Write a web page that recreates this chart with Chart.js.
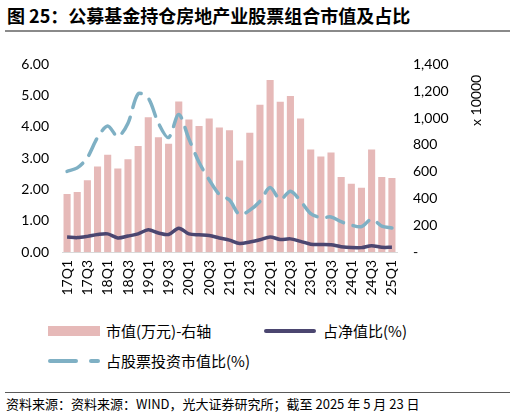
<!DOCTYPE html>
<html>
<head>
<meta charset="utf-8">
<script src="https://cdn.jsdelivr.net/npm/chart.js@4.4.1/dist/chart.umd.min.js"></script>
<style>
  body { margin: 0; width: 516px; height: 414px; position: relative; overflow: hidden; background: #fff;
         font-family: "Noto Sans CJK SC", sans-serif; color: #000; }
  #title { position: absolute; left: 7px; top: 5px; font-size: 18px; line-height: 20px; font-weight: bold; white-space: nowrap; }
  #rule1 { position: absolute; left: 5px; top: 30px; width: 505px; height: 2px; background: #8a8a8a; }
  #wrap { position: absolute; left: 0; top: 40px; width: 516px; height: 270px; }
  .leg { position: absolute; font-size: 15px; line-height: 18px; white-space: nowrap; }
  .sw { position: absolute; }
  #rule2 { position: absolute; left: 5px; top: 392px; width: 505px; height: 1px; background: #5a5a5a; }
  #src { position: absolute; left: 6px; top: 396px; font-size: 13px; line-height: 16px; white-space: nowrap; }
</style>
</head>
<body>
<div id="title">图 25：公募基金持仓房地产业股票组合市值及占比</div>
<div id="rule1"></div>
<div id="wrap"><canvas id="chart"></canvas></div>

<div class="sw" style="left:48px;top:326px;width:52px;height:10px;background:#e6b9b8"></div>
<div class="leg" style="left:106px;top:322px">市值(万元)-右轴</div>
<div class="sw" style="left:264px;top:329px;width:52px;height:4px;border-radius:2px;background:#4b4670"></div>
<div class="leg" style="left:323px;top:322px">占净值比(%)</div>
<div class="sw" style="left:48px;top:359px;width:30px;height:4px;border-radius:2px;background:#7fb0c4"></div>
<div class="sw" style="left:89px;top:359px;width:11px;height:4px;border-radius:2px;background:#7fb0c4"></div>
<div class="leg" style="left:106px;top:352px">占股票投资市值比(%)</div>

<div id="rule2"></div>
<div id="src">资料来源：资料来源：WIND，光大证券研究所；截至 2025 年 5 月 23 日</div>

<script>
const quarters = ['17Q1','17Q2','17Q3','17Q4','18Q1','18Q2','18Q3','18Q4',
  '19Q1','19Q2','19Q3','19Q4','20Q1','20Q2','20Q3','20Q4',
  '21Q1','21Q2','21Q3','21Q4','22Q1','22Q2','22Q3','22Q4',
  '23Q1','23Q2','23Q3','23Q4','24Q1','24Q2','24Q3','24Q4','25Q1'];

// 市值（万元，右轴，x 10000）
const marketValue = [433, 448, 536, 638, 726, 623, 692, 791,
  1006, 857, 808, 1123, 989, 940, 996, 930,
  908, 682, 890, 1099, 1283, 1121, 1164, 997,
  764, 713, 742, 560, 509, 480, 764, 560, 553];

// 占净值比（%）
const navRatio = [0.48, 0.46, 0.50, 0.56, 0.58, 0.45, 0.51, 0.58,
  0.71, 0.61, 0.56, 0.76, 0.58, 0.55, 0.53, 0.45,
  0.38, 0.27, 0.32, 0.39, 0.48, 0.40, 0.42, 0.34,
  0.25, 0.24, 0.23, 0.17, 0.14, 0.14, 0.20, 0.15, 0.15];

// 占股票投资市值比（%）
const stockRatio = [2.58, 2.69, 3.02, 3.66, 4.03, 3.69, 4.12, 5.06,
  4.92, 4.12, 3.66, 4.40, 3.62, 2.87, 2.31, 1.84,
  1.66, 1.19, 1.34, 1.62, 2.06, 1.68, 1.94, 1.63,
  1.23, 1.10, 1.12, 0.97, 0.86, 0.81, 1.05, 0.83, 0.77];

const leftTicks = [0, 1, 2, 3, 4, 5, 6];
const rightTicks = [0, 200, 400, 600, 800, 1000, 1200, 1400];

const tickFont = { family: 'Lato', size: 14 };

// rotated unit label next to the right axis
const unitLabel = {
  id: 'unitLabel',
  afterDraw(chart) {
    const { ctx, chartArea } = chart;
    ctx.save();
    ctx.translate(chartArea.right + 79, chartArea.top + 36);
    ctx.rotate(-Math.PI / 2);
    ctx.font = '14px Lato';
    ctx.fillStyle = '#000';
    ctx.textAlign = 'center';
    ctx.textBaseline = 'middle';
    ctx.fillText('x 10000', 0, 0);
    ctx.restore();
  }
};

new Chart(document.getElementById('chart'), {
  type: 'bar',
  data: {
    labels: quarters,
    datasets: [
      {
        label: '市值(万元)-右轴',
        data: marketValue,
        yAxisID: 'y1',
        backgroundColor: '#e6b9b8',
        barPercentage: 0.7,
        categoryPercentage: 1,
        order: 2
      },
      {
        type: 'line',
        label: '占净值比(%)',
        data: navRatio,
        yAxisID: 'y',
        borderColor: '#4b4670',
        borderWidth: 3.5,
        pointRadius: 0,
        tension: 0.3,
        order: 1
      },
      {
        type: 'line',
        label: '占股票投资市值比(%)',
        data: stockRatio,
        yAxisID: 'y',
        borderColor: '#7fb0c4',
        borderWidth: 3.5,
        borderDash: [18, 10],
        borderCapStyle: 'round',
        pointRadius: 0,
        tension: 0.3,
        order: 0
      }
    ]
  },
  options: {
    responsive: true,
    maintainAspectRatio: false,
    animation: false,
    layout: { padding: { top: 20, left: 0, right: 0, bottom: 0 } },
    plugins: {
      legend: { display: false },
      tooltip: { enabled: false }
    },
    scales: {
      x: {
        grid: { display: false, drawTicks: false },
        border: { display: true, color: '#d9d9d9', width: 1 },
        ticks: {
          autoSkip: false,
          minRotation: 90,
          maxRotation: 90,
          padding: 8,
          color: '#000',
          font: tickFont,
          callback: (v, i) => (i % 2 === 0 ? quarters[i] : '')
        },
        afterFit(s) { s.height = 58; }
      },
      y: {
        position: 'left',
        min: 0,
        max: 6,
        grid: { display: false, drawTicks: false },
        border: { display: false },
        afterBuildTicks(s) { s.ticks = leftTicks.map(v => ({ value: v })); },
        ticks: {
          padding: 13,
          color: '#000',
          font: tickFont,
          callback: v => v.toFixed(2)
        },
        afterFit(s) { s.width = 62; }
      },
      y1: {
        position: 'right',
        min: 0,
        max: 1400,
        grid: { display: false, drawTicks: false },
        border: { display: false },
        afterBuildTicks(s) { s.ticks = rightTicks.map(v => ({ value: v })); },
        ticks: {
          padding: 16,
          color: '#000',
          font: tickFont,
          callback: v => (v === 0 ? '-' : v.toLocaleString('en-US'))
        },
        afterFit(s) { s.width = 119; }
      }
    }
  },
  plugins: [unitLabel]
});
</script>
</body>
</html>
